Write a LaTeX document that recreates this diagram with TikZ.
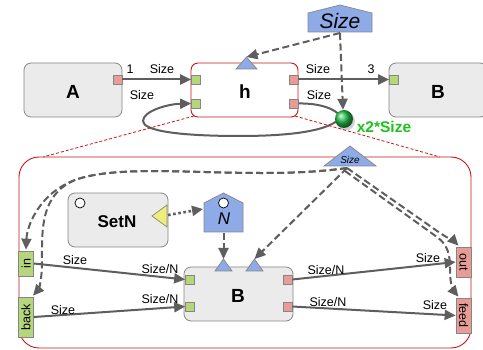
\documentclass[tikz,border=0pt]{standalone}
\usepackage{fontspec}
\setmainfont{Liberation Sans}
\usetikzlibrary{arrows.meta,calc,shapes.geometric}

\definecolor{linegray}{HTML}{5E5E5E}
\definecolor{boxgray}{HTML}{EBEBEB}
\definecolor{boxedge}{HTML}{858585}
\definecolor{redline}{HTML}{CC1414}
\definecolor{inport}{HTML}{B6D67C}
\definecolor{outport}{HTML}{E89C96}
\definecolor{paramblue}{HTML}{8EABE8}
\definecolor{ballgreen}{HTML}{22C04A}
\definecolor{labelgreen}{HTML}{1EC21E}
\definecolor{trigyellow}{HTML}{EEEE7A}

\tikzset{
  block/.style={draw=boxedge, fill=boxgray, rounded corners=7pt, line width=0.8pt, inner sep=0pt},
  hblock/.style={draw=redline, fill=white, rounded corners=7pt, line width=0.9pt, inner sep=0pt},
  inp/.style={draw=boxedge, fill=inport, line width=0.7pt, minimum size=9pt, inner sep=0pt},
  outp/.style={draw=boxedge, fill=outport, line width=0.7pt, minimum size=9pt, inner sep=0pt},
  sideport/.style={draw=boxedge, line width=0.7pt, minimum width=15pt, inner sep=0pt},
  param/.style={draw=boxedge, fill=paramblue, line width=0.7pt},
  tip/.style={-{Triangle[length=11pt,width=10pt]}},
  conn/.style={draw=linegray, line width=2pt, tip},
  dconn/.style={draw=linegray, line width=2pt, dash pattern=on 7pt off 3.5pt, tip},
  dotconn/.style={draw=linegray, line width=2.6pt, dash pattern=on 2.6pt off 2.6pt, tip},
  lbl/.style={font=\fontsize{12.5}{14}\selectfont, inner sep=0pt},
  bigname/.style={font=\fontsize{19}{22}\selectfont\bfseries, inner sep=0pt},
  zoomline/.style={draw=redline, line width=0.8pt, dash pattern=on 3pt off 2pt},
}

\begin{document}
\begin{tikzpicture}[x=1pt, y=-1pt]
\useasboundingbox (0,0) rectangle (483,350);

% ---------- top level ----------
\node[block, minimum width=98pt, minimum height=54pt] (A) at (73,90) {};
\node[bigname] (Atext) at (73,92) {A};
\node[block, minimum width=98pt, minimum height=54pt] (Bt) at (438,90) {};
\node[bigname] (Bttext) at (438,92) {B};
\node[hblock, minimum width=107pt, minimum height=54pt] (h) at (244.5,90) {};
\node[bigname] (htext) at (245,92) {h};

% parameter triangle of h
\draw[param] (236,69) -- (257,69) -- (246.5,57) -- cycle;
\coordinate (htri) at (246.5,57);

% ports
\node[outp] (Ao) at (117.5,79.5) {};
\node[inp] (hi1) at (196,79.5) {};
\node[inp] (hi2) at (196,103.5) {};
\node[outp] (ho1) at (293.5,79.5) {};
\node[outp] (ho2) at (293.5,103.5) {};
\node[inp] (Bi) at (394,79.5) {};

% Size parameter (house shape)
\draw[param] (308,13) -- (340,5) -- (372,13) -- (372,32) -- (308,32) -- cycle;
\node[font=\fontsize{21}{24}\selectfont\itshape, inner sep=0pt] (sizep) at (340,21) {Size};
\coordinate (sizepb) at (340,33);

% ball and its label
\coordinate (ballc) at (344,119);

% loop from second output back to second input
\draw[conn] (ho2.east) .. controls (320,103) and (336,109) .. (341,117)
  .. controls (330,132) and (285,136) .. (240,136)
  .. controls (180,136) and (143,131) .. (143,121)
  .. controls (143,111) and (168,104) .. (hi2.west);

\draw[conn] (Ao.east) -- (hi1.west);
\draw[conn] (ho1.east) -- (Bi.west);

\fill[black, opacity=0.18] ($(ballc)+(1.5,2)$) circle (9.5pt);
\node[circle, ball color=ballgreen, minimum size=18pt, inner sep=0pt] (ball) at (ballc) {};
\node[font=\fontsize{15.5}{18}\selectfont\bfseries, text=labelgreen, inner sep=0pt] (x2) at (384,127) {x2*Size};

\draw[dconn] (sizepb) -- (htri);
\draw[dconn] (sizepb) -- ($(ball.north)+(-1,0)$);

\node[lbl] (l1) at (130,69) {1};
\node[lbl] (l2) at (162,69) {Size};
\node[lbl] (l3) at (142,95) {Size};
\node[lbl] (l4) at (318,69) {Size};
\node[lbl] (l5) at (371,69) {3};
\node[lbl] (l6) at (319,95) {Size};

% ---------- zoomed contents of h ----------
\draw[zoomline] (194,116) -- (43,157);
\draw[zoomline] (295,116) -- (440,157);
\node[draw=redline, line width=0.9pt, rounded corners=20pt, minimum width=452pt, minimum height=191pt] (sub) at (245,252.5) {};

% small Size parameter
\draw[param] (324,166) -- (376,166) -- (350,146) -- cycle;
\node[font=\fontsize{10}{12}\selectfont\itshape, inner sep=0pt] (sizes) at (350,159.5) {Size};
\coordinate (szs) at (347,168);
\coordinate (szs2) at (345,171);

% SetN
\node[block, minimum width=100pt, minimum height=54pt] (setn) at (118,220) {};
\node[font=\fontsize{17}{20}\selectfont\bfseries, inner sep=0pt] (setntext) at (117,222) {SetN};
\node[draw=black, fill=white, circle, minimum size=10pt, inner sep=0pt, line width=0.7pt] (setnc) at (80,203) {};
\draw[draw=boxedge, fill=trigyellow, line width=0.7pt] (167,205) -- (167,227) -- (152,216) -- cycle;
\coordinate (yel) at (168,215);

% N parameter
\draw[param] (204,203) -- (223.5,193) -- (243,203) -- (243,232) -- (204,232) -- cycle;
\node[draw=black, fill=white, circle, minimum size=10pt, inner sep=0pt, line width=0.7pt] (nc) at (223.5,203) {};
\node[font=\fontsize{17}{20}\selectfont\itshape, inner sep=0pt] (ntext) at (224,219) {N};
\coordinate (nleft) at (203,209);
\coordinate (nbot) at (223.5,233);

% inner block B
\node[block, minimum width=109pt, minimum height=54pt] (Bi2) at (238.5,294) {};
\node[bigname] (Bi2text) at (238,296) {B};
\draw[param] (215,271) -- (232,271) -- (223.5,259) -- cycle;
\draw[param] (246,271) -- (263,271) -- (254.5,259) -- cycle;
\coordinate (tri1) at (223.5,259);
\coordinate (tri2) at (254.5,259);
\node[inp] (bi1) at (190,279.5) {};
\node[inp] (bi2) at (190,306.5) {};
\node[outp] (bo1) at (287.5,279.5) {};
\node[outp] (bo2) at (287.5,306.5) {};

% side ports
\node[sideport, fill=inport, minimum height=25pt] (in) at (26,263.5) {};
\node[rotate=90, lbl] (intext) at (in.center) {in};
\node[sideport, fill=inport, minimum height=40pt] (back) at (26,317) {};
\node[rotate=90, lbl] (backtext) at (back.center) {back};
\node[sideport, fill=outport, minimum height=30pt] (out) at (463.5,262) {};
\node[rotate=-90, lbl] (outtext) at (out.center) {out};
\node[sideport, fill=outport, minimum height=35pt] (feed) at (463.5,315.5) {};
\node[rotate=-90, lbl] (feedtext) at (feed.center) {feed};

% data connections
\draw[conn] (in.east) -- (bi1.west);
\draw[conn] (back.east) -- (bi2.west);
\draw[conn] (bo1.east) -- (out.west);
\draw[conn] (bo2.east) -- (feed.west);

\node[lbl] (m1) at (75,260) {Size};
\node[lbl] (m2) at (160,269) {Size/N};
\node[lbl] (m3) at (63,310) {Size};
\node[lbl] (m4) at (160,299) {Size/N};
\node[lbl] (m5) at (326,270) {Size/N};
\node[lbl] (m6) at (428,258) {Size};
\node[lbl] (m7) at (328,302) {Size/N};
\node[lbl] (m8) at (435,305) {Size};

% parameter connections
\draw[dotconn] (yel) -- (nleft);
\draw[dconn] (nbot) -- (tri1);
\draw[dconn] (szs) -- (tri2);
\draw[dconn] (szs) .. controls (250,182) and (130,160) .. (75,180)
  .. controls (40,193) and (27,225) .. ($(in.north)+(0,-1)$);
\draw[dconn] (szs) .. controls (250,182) and (130,160) .. (75,180)
  .. controls (40,195) and (42,230) .. (42,262)
  .. controls (42,282) and (38,290) .. ($(back.north)+(7,-1)$);
\draw[dconn] (szs) -- (440,233) .. controls (449,239) and (454,241) .. ($(out.north)+(-5,-1)$);
\draw[dconn] (szs2) -- (437,237) .. controls (448,245) and (450,255) .. (450,268)
  .. controls (450,285) and (453,290) .. ($(feed.north)+(-5,-1)$);

\end{tikzpicture}
\end{document}
